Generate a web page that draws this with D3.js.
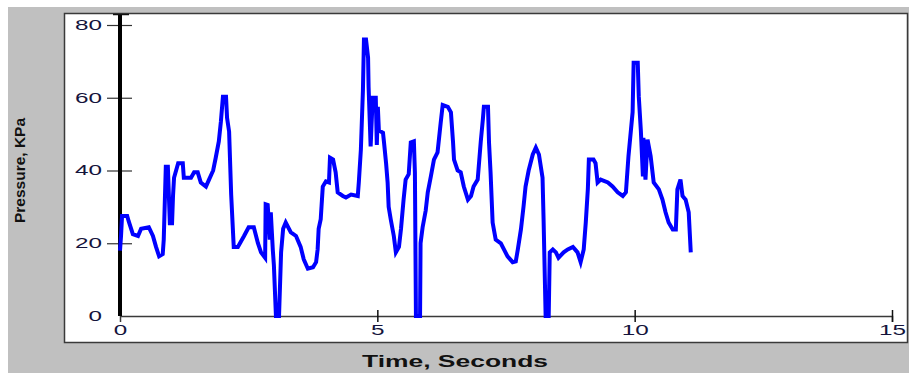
<!DOCTYPE html>
<html>
<head>
<meta charset="UTF-8">
<title>Pressure vs time</title>
<script src="https://d3js.org/d3.v7.min.js"></script>
<style>
body { margin: 0; background: #fff; }
svg { display: block; }
</style>
</head>
<body>
<script>

/* Data */
var time = [0.00, 0.02, 0.04, 0.14, 0.17, 0.25, 0.35, 0.41, 0.56, 0.64, 0.70, 0.76, 0.83, 0.85, 0.89, 0.93,
	0.97, 0.99, 1.01, 1.03, 1.05, 1.13, 1.22, 1.24, 1.38, 1.44, 1.51, 1.57, 1.67, 1.73, 1.81, 1.86,
	1.92, 1.96, 2.00, 2.06, 2.08, 2.12, 2.16, 2.21, 2.29, 2.41, 2.50, 2.60, 2.68, 2.74, 2.82, 2.83,
	2.87, 2.91, 2.93, 2.97, 2.99, 3.03, 3.09, 3.13, 3.17, 3.22, 3.32, 3.42, 3.51, 3.57, 3.65, 3.75,
	3.81, 3.84, 3.86, 3.90, 3.94, 4.00, 4.06, 4.08, 4.14, 4.19, 4.23, 4.33, 4.39, 4.49, 4.62, 4.64,
	4.68, 4.72, 4.74, 4.78, 4.82, 4.83, 4.87, 4.91, 4.97, 4.99, 5.01, 5.03, 5.11, 5.13, 5.17, 5.20,
	5.22, 5.26, 5.32, 5.36, 5.42, 5.46, 5.51, 5.55, 5.61, 5.65, 5.71, 5.73, 5.75, 5.83, 5.84, 5.88,
	5.94, 5.98, 6.04, 6.10, 6.17, 6.23, 6.27, 6.37, 6.43, 6.47, 6.49, 6.56, 6.62, 6.68, 6.76, 6.82,
	6.87, 6.95, 6.97, 7.01, 7.05, 7.07, 7.15, 7.17, 7.20, 7.24, 7.30, 7.40, 7.46, 7.53, 7.63, 7.69,
	7.73, 7.79, 7.84, 7.88, 7.94, 8.02, 8.08, 8.14, 8.21, 8.23, 8.27, 8.33, 8.35, 8.41, 8.47, 8.52,
	8.62, 8.70, 8.80, 8.89, 8.95, 9.01, 9.05, 9.09, 9.11, 9.20, 9.24, 9.28, 9.34, 9.48, 9.57, 9.67,
	9.77, 9.83, 9.88, 9.96, 9.98, 10.06, 10.08, 10.12, 10.16, 10.17, 10.21, 10.25, 10.31, 10.37, 10.47, 10.54,
	10.60, 10.66, 10.74, 10.80, 10.83, 10.89, 10.93, 10.99, 11.05, 11.09]
var pressure = [18, 22, 27.5, 27.5, 26, 22.5, 22, 24, 24.4, 22, 19, 16.4, 17, 21, 41, 41,
	25, 28, 25, 33, 38, 42, 42, 38, 38, 39.5, 39.5, 36.7, 35.6, 37.5, 40, 43.5,
	48, 53.4, 60.3, 60.3, 54.5, 50.7, 33.4, 19, 19, 22, 24.4, 24.4, 20, 17.5, 16, 30.7,
	30.5, 21, 28.5, 18, 14, 0, 0, 17.5, 24, 25.7, 23, 22, 19, 15.6, 13, 13.4,
	14.8, 18.3, 24, 26.6, 35.6, 37, 36.7, 43.5, 43, 39.5, 34, 33, 32.6, 33.4, 33, 36.7,
	45.7, 62, 76, 76, 71, 63, 46.6, 60, 60, 47, 57.5, 51, 50.4, 47.7, 42, 36.7,
	30, 26.6, 22, 17.5, 19, 24, 32, 37.5, 39, 47.7, 48, 39.5, 0, 0, 20, 24.4,
	29, 34, 38.4, 43, 45, 53, 58, 57.5, 56, 48, 43, 40, 39.5, 35.6, 32, 33,
	35.6, 37.5, 41, 48, 54, 57.5, 57.5, 47.7, 39.5, 25.7, 21, 20, 18.3, 16.4, 14.8, 15,
	18.3, 23.8, 30, 35.6, 40, 44.4, 46.3, 44.4, 38, 26.6, 0, 0, 17.5, 18.3, 17.5, 16,
	17.5, 18.3, 19, 17.5, 14.8, 18.3, 25.7, 34.8, 43, 43, 42, 36.7, 37.5, 36.7, 35.6, 34,
	33, 34, 44, 56, 69.6, 69.6, 60.3, 51, 38.4, 49, 37.5, 48.5, 44, 36.7, 34.8, 32,
	28.5, 25.7, 23.8, 23.8, 34.8, 37.5, 33, 32, 28.5, 17.5]
var x_ticks = [0, 5, 10, 15]
var y_ticks = [0, 20, 40, 60, 80]
var x_title = 'Time, Seconds'
var y_title = 'Pressure, KPa'

/* Layout */
var W = 909, H = 373
var x0 = 120, x1 = 892	// pixel range for 0..15 s
var y0 = 316, y1 = 25	// pixel range for 0..80 KPa
var label_color = '#14143c'
var digit_w = 13.5	// tick digits are drawn wide in the original

var x_scale = d3.scaleLinear().domain([0, 15]).range([x0, x1])
var y_scale = d3.scaleLinear().domain([0, 80]).range([y0, y1])

var svg = d3.select('body').append('svg')
	.attr('width', W)
	.attr('height', H)

/* grey window background and white plot panel */
svg.append('rect')
	.attr('x', 8).attr('y', 7)
	.attr('width', W - 8).attr('height', H - 7)
	.style('fill', '#c0c0c0')
svg.append('rect')
	.attr('x', 64.5).attr('y', 13.5)
	.attr('width', 843).attr('height', 329)
	.style('fill', '#fff')
	.style('stroke', '#3a3a3a')
	.style('stroke-width', 1.5)

/* Stretches tick labels to the wide look of the original */
function style_labels(sel) {
	sel.attr('font-family', 'Arial, "Liberation Sans", sans-serif')
		.attr('font-size', 14)
		.attr('fill', label_color)
		.attr('lengthAdjust', 'spacingAndGlyphs')
		.attr('textLength', function(d) { return String(d).length * digit_w })
}

/* x axis: thin line, ticks crossing it */
var x_axis = d3.axisBottom(x_scale)
	.tickValues(x_ticks)
	.tickFormat(d3.format('d'))
	.tickSizeOuter(0)
	.tickSize(6)
var gx = svg.append('g')
	.attr('transform', 'translate(0,' + y0 + ')')
	.call(x_axis)
gx.select('.domain').attr('stroke', '#3a3a3a').attr('stroke-width', 1.5)
gx.selectAll('.tick line').attr('y1', -6).attr('stroke', '#111').attr('stroke-width', 1.5)
gx.selectAll('.tick text').attr('y', 9).call(style_labels)
gx.selectAll('.tick').filter(function(d) { return d == 0 }).select('line').remove()

/* y axis: thick black line with a cap at the top */
var y_axis = d3.axisLeft(y_scale)
	.tickValues(y_ticks)
	.tickFormat(d3.format('d'))
	.tickSizeOuter(0)
	.tickSize(12)
var gy = svg.append('g')
	.attr('transform', 'translate(' + x0 + ',0)')
	.call(y_axis)
gy.select('.domain').remove()
gy.selectAll('.tick line').attr('x2', -13).attr('x1', 12).attr('stroke', '#333').attr('stroke-width', 1.2)
gy.selectAll('.tick text').attr('x', -18).call(style_labels)
gy.selectAll('.tick').filter(function(d) { return d == 0 }).select('line').remove()

svg.append('line')
	.attr('x1', x0).attr('x2', x0)
	.attr('y1', 14).attr('y2', y0)
	.style('stroke', '#000')
	.style('stroke-width', 4)
svg.append('line')
	.attr('x1', x0 - 7).attr('x2', x0 + 9)
	.attr('y1', 14.5).attr('y2', 14.5)
	.style('stroke', '#111')
	.style('stroke-width', 1.5)

/* pressure trace */
var line = d3.line()
	.x(function(d, i) { return x_scale(time[i]) })
	.y(function(d) { return y_scale(d) })
svg.append('path')
	.datum(pressure)
	.attr('d', line)
	.style('fill', 'none')
	.style('stroke', '#0000ff')
	.style('stroke-width', 4)
	.style('stroke-linejoin', 'miter')

/* axis titles, wide bold lettering as in the original */
svg.append('text')
	.attr('x', 362).attr('y', 367)
	.attr('textLength', 186)
	.attr('lengthAdjust', 'spacingAndGlyphs')
	.attr('font-family', 'Arial, "Liberation Sans", sans-serif')
	.attr('font-weight', 'bold')
	.attr('font-size', 16)
	.attr('fill', '#111')
	.text(x_title)

svg.append('text')
	.attr('transform', 'translate(25,223) rotate(-90)')
	.attr('textLength', 105)
	.attr('lengthAdjust', 'spacingAndGlyphs')
	.attr('font-family', '"Liberation Sans Narrow", Arial, sans-serif')
	.attr('font-weight', 'bold')
	.attr('font-size', 15)
	.attr('fill', '#111')
	.text(y_title)

</script>
</body>
</html>
